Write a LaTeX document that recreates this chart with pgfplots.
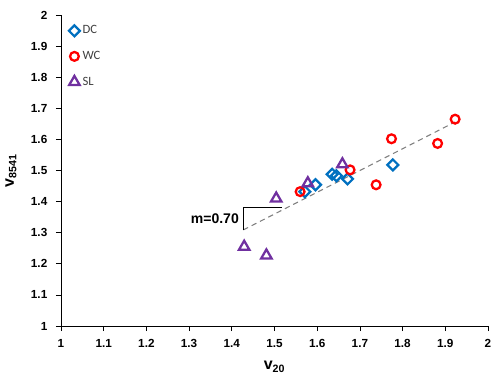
\documentclass[border=0pt]{standalone}
\usepackage{fontspec}
\setmainfont{Liberation Sans}
\newfontfamily\calibri{Carlito}
\usepackage{pgfplots}
\pgfplotsset{compat=1.18}
\definecolor{dcblue}{HTML}{0070C0}
\definecolor{wcred}{HTML}{FF0000}
\definecolor{slpurple}{HTML}{7030A0}
\definecolor{lgtxt}{HTML}{404040}
\begin{document}
\begin{tikzpicture}
\begin{axis}[
  at={(0,0)}, anchor=south west,
  scale only axis, width=320.25pt, height=233.25pt,
  xmin=1, xmax=2, ymin=1, ymax=2,
  xtick={1,1.1,...,2.01}, ytick={1,1.1,...,2.01},
  axis lines*=left,
  tick align=outside,
  major tick length=3.75pt,
  tick style={black, line width=0.5pt},
  axis line style={black, line width=0.6pt},
  /pgf/number format/assume math mode=true,
  /pgf/number format/.cd, fixed, precision=1, /pgfplots/.cd,
  ticklabel style={font=\bfseries\fontsize{8.8}{10}\selectfont},
  xticklabel style={yshift=-3pt},
  yticklabel style={xshift=-3pt},
  xlabel={\bfseries v\textsubscript{20}},
  ylabel={\bfseries v\textsubscript{8541}},
  label style={font=\fontsize{12}{14}\selectfont},
  xlabel style={yshift=-3pt},
  ylabel style={yshift=4pt},
  legend style={at={(0.018,0.975)}, anchor=north west, draw=none, fill=none,
    font=\calibri\fontsize{9.5}{11}\selectfont\color{lgtxt}, row sep=7.5pt, inner sep=0pt},
  legend cell align=left,
  legend image code/.code={\draw[#1] plot coordinates {(0.1cm,0cm)};},
  clip=false,
]
\addplot[only marks, mark=square, mark options={rotate=45}, mark size=2.9pt, draw=dcblue, line width=1.7pt] coordinates {
  (1.571,1.432) (1.596,1.454) (1.635,1.488) (1.645,1.483) (1.671,1.473) (1.777,1.518)
};
\addlegendentry{DC}
\addplot[only marks, mark=o, mark size=3.3pt, draw=wcred, line width=1.7pt] coordinates {
  (1.560,1.432) (1.677,1.502) (1.738,1.454) (1.774,1.602) (1.882,1.587) (1.923,1.665)
};
\addlegendentry{WC}
\addplot[only marks, mark=triangle, mark size=4.5pt, draw=slpurple, line width=1.7pt] coordinates {
  (1.429,1.255) (1.481,1.227) (1.504,1.410) (1.578,1.459) (1.659,1.520)
};
\addlegendentry{SL}
\addplot[forget plot, gray, dashed, line width=0.8pt, dash pattern=on 4pt off 3pt] coordinates {(1.427,1.309) (1.923,1.656)};
\draw[black, line width=0.6pt] (axis cs:1.427,1.309) -- (axis cs:1.427,1.382) -- (axis cs:1.517,1.382);
\node[anchor=east, font=\bfseries\fontsize{10.5}{12}\selectfont, inner sep=0pt] at (axis cs:1.417,1.344) {m=0.70};
\end{axis}
\pgfresetboundingbox
\path[use as bounding box] (-45.75pt,-41.25pt) rectangle (325.5pt,244.5pt);
\end{tikzpicture}
\end{document}
